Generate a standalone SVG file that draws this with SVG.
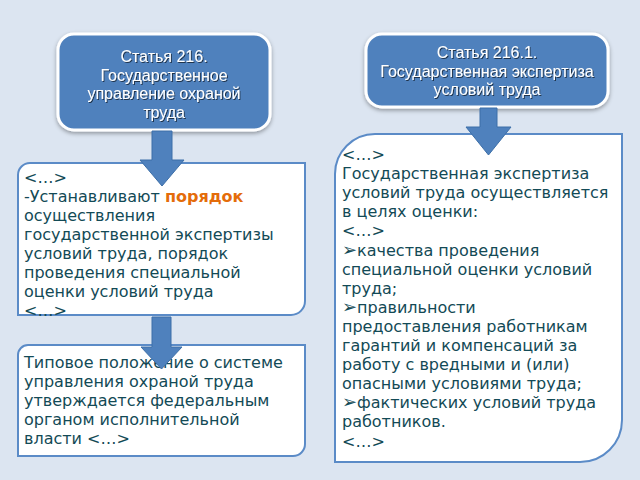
<svg xmlns="http://www.w3.org/2000/svg" width="640" height="480" viewBox="0 0 640 480">
<defs>
<filter id="sh" x="-10%" y="-10%" width="120%" height="130%">
<feDropShadow dx="0" dy="2" stdDeviation="2" flood-color="#000" flood-opacity="0.35"/>
</filter>
<filter id="ts" x="-5%" y="-5%" width="110%" height="120%">
<feDropShadow dx="1" dy="1" stdDeviation="0.3" flood-color="#000" flood-opacity="0.6"/>
</filter>
</defs>
<style>
.hdr{fill:#4f81bd;stroke:#fff;stroke-width:3}
.hdrt{font-family:"Liberation Sans",Arial,sans-serif;font-size:16px;fill:#fff;text-anchor:middle}
.box{fill:#fff;stroke:#5b8bc7;stroke-width:2}
.bt{font-family:"DejaVu Sans",Verdana,sans-serif;font-size:16px;fill:#134a56}
.or{fill:#e46c0a;font-weight:bold}
.bul{font-size:18px}
.arr{fill:#4f81bd;stroke:#3d6fa8;stroke-width:1}
</style>
<rect width="640" height="480" fill="#dce5f1"/>

<g id="h1">
<rect class="hdr" x="58" y="34" width="212" height="96" rx="16" filter="url(#sh)"/>
<g class="hdrt" filter="url(#ts)">
<text x="164" y="62">Статья 216.</text>
<text x="164" y="80.5">Государственное</text>
<text x="164" y="99">управление охраной</text>
<text x="164" y="117.5">труда</text>
</g>
</g>

<g id="h2">
<rect class="hdr" x="366" y="34" width="242" height="73" rx="16" filter="url(#sh)"/>
<g class="hdrt" filter="url(#ts)">
<text x="487" y="58">Статья 216.1.</text>
<text x="487" y="76.5">Государственная экспертиза</text>
<text x="487" y="95">условий труда</text>
</g>
</g>

<g id="b1">
<path class="box" d="M18,175 A12,12 0 0 1 30,163 H305 V301 A14,14 0 0 1 291,315 H18 Z"/>
<g class="bt">
<text x="24" y="183">&lt;…&gt;</text>
<text x="24" y="202">-Устанавливают <tspan class="or">порядок</tspan></text>
<text x="24" y="221">осуществления</text>
<text x="24" y="240">государственной экспертизы</text>
<text x="24" y="259">условий труда, порядок</text>
<text x="24" y="278">проведения специальной</text>
<text x="24" y="297">оценки условий труда</text>
<text x="24" y="316">&lt;…&gt;</text>
</g>
</g>

<g id="b2">
<path class="box" d="M335,174 A40,40 0 0 1 375,134 H622 V420 A42,42 0 0 1 580,462 H335 Z"/>
<g class="bt">
<text x="342" y="160">&lt;…&gt;</text>
<text x="342" y="179.1">Государственная экспертиза</text>
<text x="342" y="198.2">условий труда осуществляется</text>
<text x="342" y="217.3">в целях оценки:</text>
<text x="342" y="236.4">&lt;…&gt;</text>
<text x="342" y="255.5"><tspan class="bul">➢</tspan>качества проведения</text>
<text x="342" y="274.6">специальной оценки условий</text>
<text x="342" y="293.7">труда;</text>
<text x="342" y="312.8"><tspan class="bul">➢</tspan>правильности</text>
<text x="342" y="331.9">предоставления работникам</text>
<text x="342" y="351">гарантий и компенсаций за</text>
<text x="342" y="370.1">работу с вредными и (или)</text>
<text x="342" y="389.2">опасными условиями труда;</text>
<text x="342" y="408.3"><tspan class="bul">➢</tspan>фактических условий труда</text>
<text x="342" y="427.4">работников.</text>
<text x="342" y="446.5">&lt;…&gt;</text>
</g>
</g>

<g id="b3">
<path class="box" d="M18,355 A10,10 0 0 1 28,345 H305 V444 A12,12 0 0 1 293,456 H18 Z"/>
<g class="bt">
<text x="24" y="368">Типовое положение о системе</text>
<text x="24" y="387">управления охраной труда</text>
<text x="24" y="406">утверждается федеральным</text>
<text x="24" y="425">органом исполнительной</text>
<text x="24" y="444">власти &lt;…&gt;</text>
</g>
</g>

<g id="connectors">
<polygon class="arr" points="152,131 172,131 172,160 184,160 162,186 140,160 152,160"/>
<polygon class="arr" points="480,108 497,108 497,127 511,127 488.5,155 466,127 480,127"/>
<polygon class="arr" points="152,317 171,317 171,347 182,347 161.5,369 141,347 152,347"/>
</g>
</svg>
